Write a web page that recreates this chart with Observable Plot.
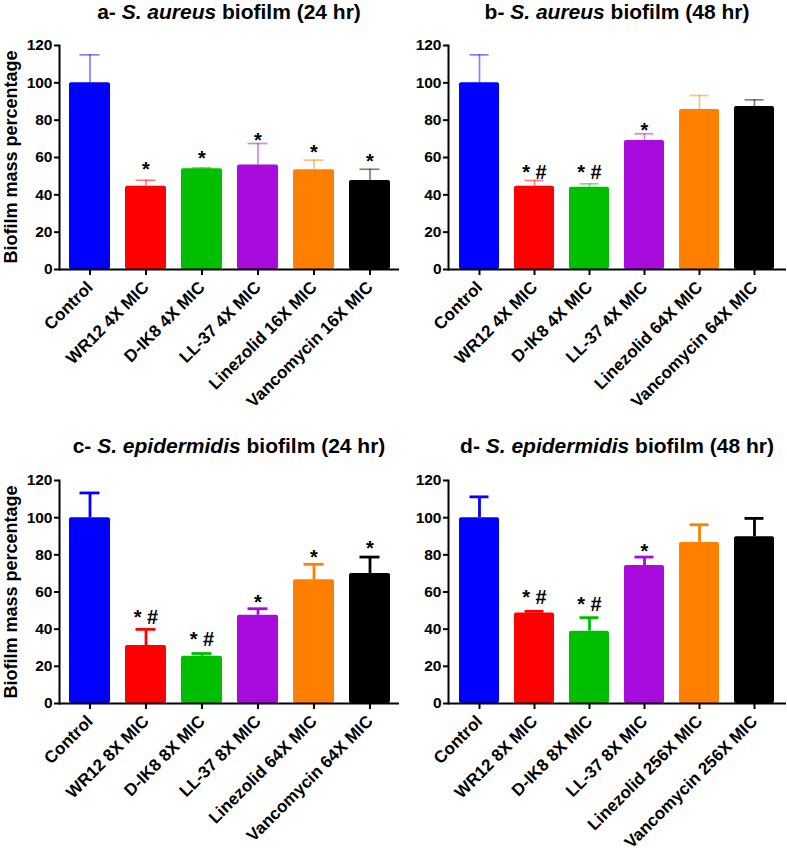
<!DOCTYPE html>
<html>
<head>
<meta charset="utf-8">
<script src="https://cdn.jsdelivr.net/npm/d3@7"></script>
<script src="https://cdn.jsdelivr.net/npm/@observablehq/plot@0.6"></script>
<style>
  body { margin: 0; background: #fff; font-family: "Liberation Sans", Arial, sans-serif; }
  #wrap { position: relative; width: 787px; height: 848px; background: #fff; }
  .title { position: absolute; font-weight: bold; font-size: 21px; line-height: 21px; white-space: nowrap; transform: translateX(-50%); color: #000; }
  .ylab { position: absolute; font-weight: bold; font-size: 18px; line-height: 18px; white-space: nowrap; transform: translate(-50%, -50%) rotate(-90deg); color: #000; }
  .panel { position: absolute; }
</style>
</head>
<body>
<div id="wrap"></div>
<script>
// ---- data ----
const barColors = ["#0000ff", "#ff0000", "#00bf00", "#a80cdc", "#ff8000", "#000000"];

const categoriesA = ["Control", "WR12 4X MIC", "D-IK8 4X MIC", "LL-37 4X MIC", "Linezolid 16X MIC", "Vancomycin 16X MIC"];
const meanA = [100, 44.6, 54.0, 56.0, 53.4, 47.7];
const semA  = [15.0, 3.2, 0.5, 11.5, 5.2, 6.0];
const sigA  = ["", "*", "*", "*", "*", "*"];
const sigYA = [0, 56.5, 61.9, 71.8, 65.1, 60.3];

const categoriesB = ["Control", "WR12 4X MIC", "D-IK8 4X MIC", "LL-37 4X MIC", "Linezolid 64X MIC", "Vancomycin 64X MIC"];
const meanB = [100, 44.6, 44.1, 69.1, 85.7, 87.3];
const semB  = [15.0, 3.1, 1.8, 3.6, 7.5, 3.6];
const sigB  = ["", "* #", "* #", "*", "", ""];
const sigYB = [0, 52.6, 52.2, 77.1, 0, 0];

const categoriesC = ["Control", "WR12 8X MIC", "D-IK8 8X MIC", "LL-37 8X MIC", "Linezolid 64X MIC", "Vancomycin 64X MIC"];
const meanC = [100, 31.2, 25.4, 47.5, 66.6, 69.9];
const semC  = [13.3, 8.7, 1.5, 3.5, 8.3, 8.9];
const sigC  = ["", "* #", "* #", "*", "*", "*"];
const sigYC = [0, 46.6, 35.0, 57.2, 81.4, 85.9];

const categoriesD = ["Control", "WR12 8X MIC", "D-IK8 8X MIC", "LL-37 8X MIC", "Linezolid 256X MIC", "Vancomycin 256X MIC"];
const meanD = [100, 48.7, 38.9, 74.2, 86.7, 89.7];
const semD  = [11.2, 0.9, 7.3, 4.6, 9.5, 9.9];
const sigD  = ["", "* #", "* #", "*", "", ""];
const sigYD = [0, 57.2, 53.7, 84.6, 0, 0];

const yTicks = [0, 20, 40, 60, 80, 100, 120];

// ---- drawing ----
const wrap = document.getElementById("wrap");
const FONT = "'Liberation Sans', Arial, sans-serif";

function panel(cats, mean, sem, sig, sigY, o) {
  const data = cats.map((c, i) => ({cat: c, mean: mean[i], top: mean[i] + sem[i], sig: sig[i], sy: sigY[i], color: barColors[i]}));
  const errStyle = {stroke: "color", strokeWidth: o.errWidth, strokeOpacity: o.errOpacity};
  const plot = Plot.plot({
    width: o.width,
    height: o.height,
    marginLeft: 59,
    marginRight: 1,
    marginTop: o.mt,
    marginBottom: o.mb,
    style: {fontFamily: FONT, fontWeight: "bold", fontSize: "15.5px", color: "#000", background: "transparent", overflow: "visible"},
    x: {domain: cats, paddingInner: 0.27, paddingOuter: 0.17, label: null},
    y: {domain: [0, 120], label: null},
    color: {type: "identity"},
    marks: [
      Plot.ruleX(data, {x: "cat", y1: "mean", y2: "top", ...errStyle}),
      Plot.tickY(data, {x: "cat", y: "top", insetLeft: 10.5, insetRight: 10.5, ...errStyle}),
      Plot.barY(data, {x: "cat", y: "mean", fill: "color", rx: 2}),
      // lone asterisks: glyph centre placed at sy
      Plot.text(data.filter(d => d.sig === "*"), {x: "cat", y: "sy", text: "sig", dy: 5.1, fontSize: 20, fontWeight: "bold", fill: "#000"}),
      // "* #": hash centre placed at sy
      Plot.text(data.filter(d => d.sig === "* #"), {x: "cat", y: "sy", text: "sig", dy: 0.8, fontSize: 20, fontWeight: "bold", fill: "#000"}),
      Plot.ruleY([0], {strokeWidth: 2, stroke: "#000"}),
      Plot.frame({anchor: "left", strokeWidth: 2, stroke: "#000"}),
      Plot.axisY({ticks: yTicks, tickSize: 5, tickPadding: 2, strokeWidth: 2, label: null}),
      Plot.axisX({tickSize: 6, tickPadding: 9, tickRotate: -45, fontSize: 17, strokeWidth: 2, label: null})
    ]
  });
  plot.classList.add("panel");
  plot.style.left = o.left + "px";
  plot.style.top = o.top + "px";
  wrap.appendChild(plot);

  const t = document.createElement("div");
  t.className = "title";
  t.innerHTML = o.title;
  t.style.left = o.titleX + "px";
  t.style.top = o.titleY + "px";
  wrap.appendChild(t);

  if (o.ylabel) {
    const yl = document.createElement("div");
    yl.className = "ylab";
    yl.textContent = o.ylabel;
    yl.style.left = "10.5px";
    yl.style.top = (o.top + o.mt + (o.height - o.mt - o.mb) / 2) + "px";
    wrap.appendChild(yl);
  }
}

const YLABEL = "Biofilm mass percentage";

panel(categoriesA, meanA, semA, sigA, sigYA, {
  left: 0, top: 0, width: 400, height: 420, mt: 45, mb: 151,
  errWidth: 1.7, errOpacity: 0.5,
  title: "a- <i>S. aureus</i> biofilm (24 hr)", titleX: 229, titleY: 1, ylabel: YLABEL
});
panel(categoriesB, meanB, semB, sigB, sigYB, {
  left: 389, top: 0, width: 398, height: 420, mt: 45, mb: 151,
  errWidth: 1.7, errOpacity: 0.5,
  title: "b- <i>S. aureus</i> biofilm (48 hr)", titleX: 617, titleY: 1
});
panel(categoriesC, meanC, semC, sigC, sigYC, {
  left: 0, top: 420, width: 400, height: 428, mt: 60, mb: 145,
  errWidth: 2.8, errOpacity: 1,
  title: "c- <i>S. epidermidis</i> biofilm (24 hr)", titleX: 229, titleY: 435, ylabel: YLABEL
});
panel(categoriesD, meanD, semD, sigD, sigYD, {
  left: 389, top: 420, width: 398, height: 428, mt: 60, mb: 145,
  errWidth: 2.8, errOpacity: 1,
  title: "d- <i>S. epidermidis</i> biofilm (48 hr)", titleX: 617, titleY: 435
});
</script>
</body>
</html>
